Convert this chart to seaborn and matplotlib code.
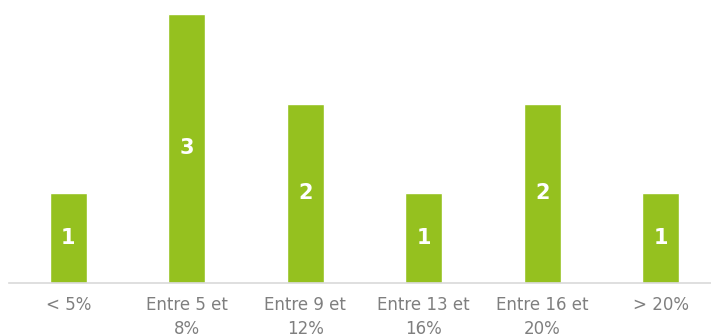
import matplotlib
matplotlib.use("Agg")
import matplotlib.pyplot as plt
import seaborn as sns
import pandas as pd

categories = ["< 5%", "Entre 5 et\n8%", "Entre 9 et\n12%", "Entre 13 et\n16%", "Entre 16 et\n20%", "> 20%"]
values = [1, 3, 2, 1, 2, 1]

sns.set_theme(style="white")
plt.rcParams['font.family'] = ['DejaVu Sans']

df = pd.DataFrame({"cat": categories, "val": values})

fig = plt.figure(figsize=(7.11, 3.36), dpi=100)
ax = fig.add_axes([9/711, (336-283)/336, 711/711, (283-14)/336])
sns.barplot(data=df, x="cat", y="val", color="#95C11F", width=0.315, saturation=1, ax=ax)
ax.set_xlim(-0.5, 5.5)
ax.set_ylim(0, 3)
for p, v in zip(ax.patches, values):
    ax.text(p.get_x() + p.get_width()/2, v/2, str(v), ha="center", va="center",
            color="white", fontsize=15, fontweight="bold")
for s in ["top", "right", "left"]:
    ax.spines[s].set_visible(False)
ax.spines["bottom"].set_color("#d9d9d9")
ax.spines["bottom"].set_linewidth(1.2)
ax.set_yticks([])
ax.set_xlabel("")
ax.set_ylabel("")
ax.tick_params(axis="x", length=0, pad=9, labelsize=12, labelcolor="#7f7f7f")
for t in ax.get_xticklabels():
    t.set_linespacing(1.45)
fig.savefig("out.png", dpi=100)
